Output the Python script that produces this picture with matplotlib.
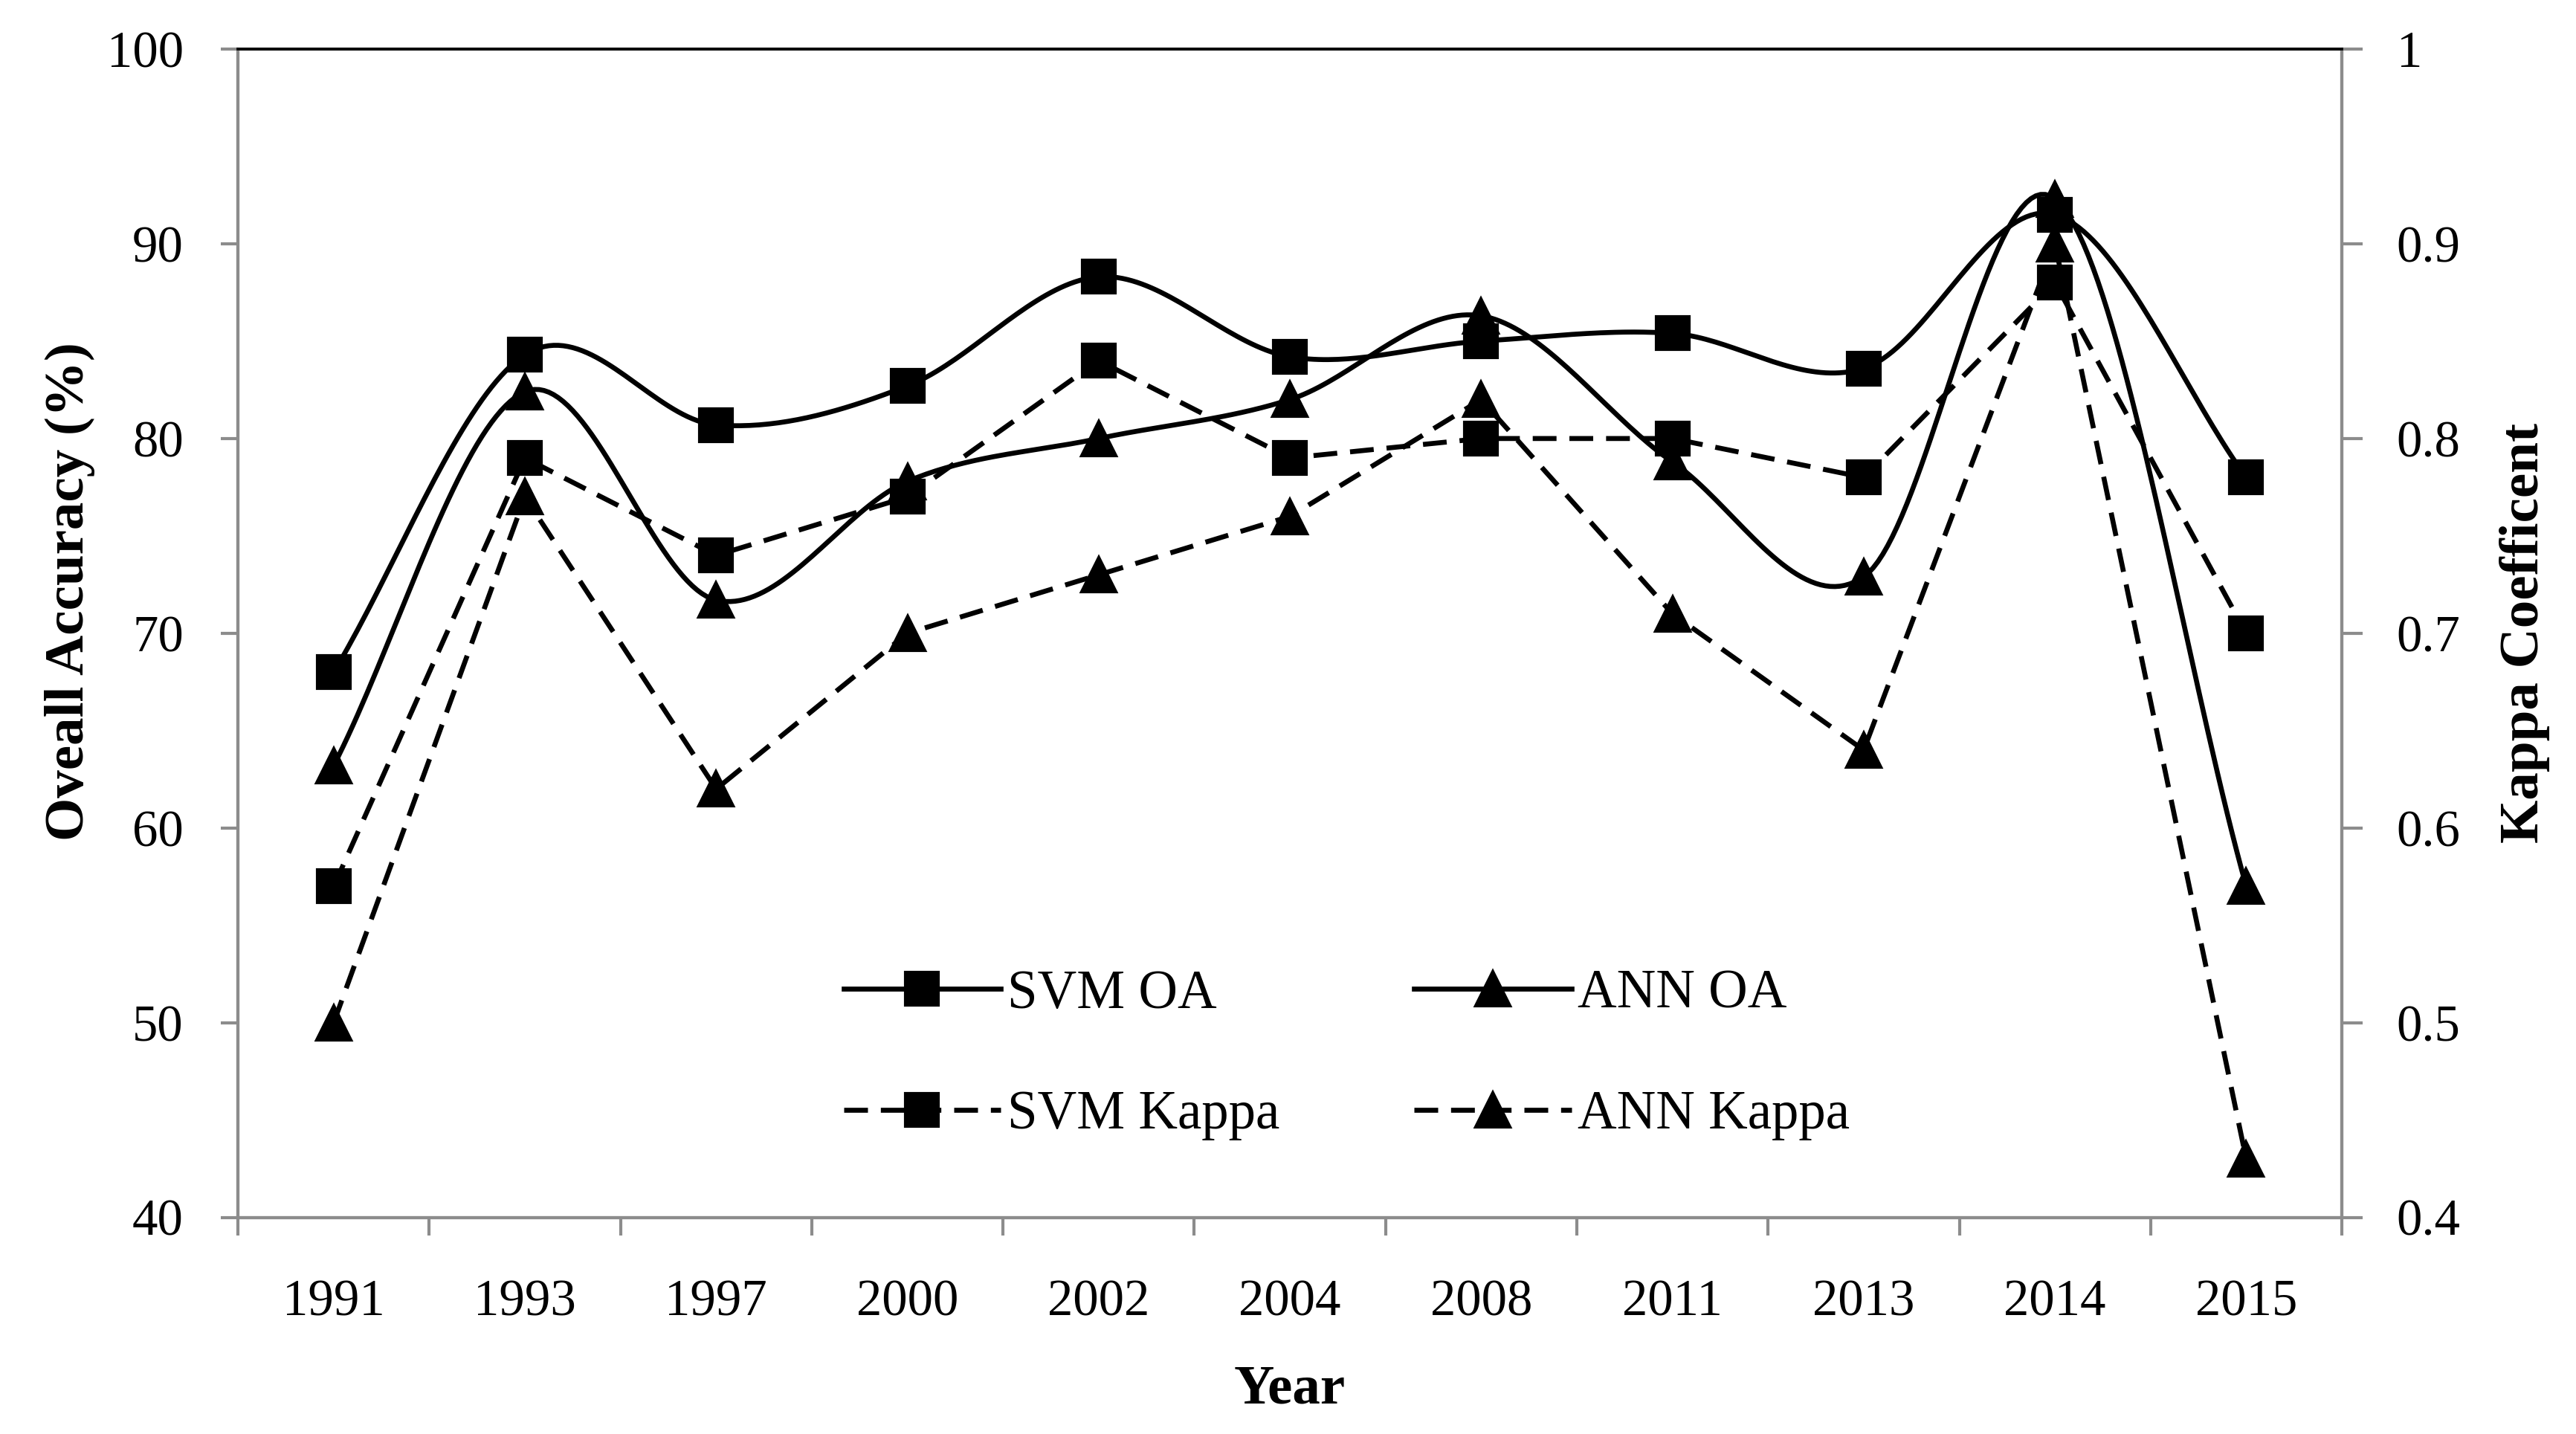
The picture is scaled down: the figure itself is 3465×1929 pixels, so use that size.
import numpy as np
import matplotlib
matplotlib.use("Agg")
import matplotlib.pyplot as plt
from matplotlib.lines import Line2D

years = ["1991", "1993", "1997", "2000", "2002", "2004", "2008", "2011", "2013", "2014", "2015"]
svm_oa = [68.0, 84.3, 80.7, 82.7, 88.3, 84.2, 85.0, 85.4, 83.6, 91.5, 78.0]
ann_oa = [63.2, 82.4, 71.7, 77.8, 80.0, 82.0, 86.3, 78.8, 72.9, 92.3, 57.0]
svm_kappa = [0.57, 0.79, 0.74, 0.77, 0.84, 0.79, 0.80, 0.80, 0.78, 0.88, 0.70]
ann_kappa = [0.50, 0.77, 0.62, 0.70, 0.73, 0.76, 0.82, 0.71, 0.64, 0.90, 0.43]

plt.rcParams['font.family'] = ['Liberation Serif', 'DejaVu Serif']


def smooth(xs, ys, n=40):
    P = np.column_stack([np.asarray(xs, float), np.asarray(ys, float)])
    ext = np.vstack([2 * P[0] - P[1], P, 2 * P[-1] - P[-2]])
    out = []
    t = np.linspace(0, 1, n, endpoint=False)[:, None]
    for i in range(len(P) - 1):
        p0, p1, p2, p3 = ext[i], ext[i + 1], ext[i + 2], ext[i + 3]
        b0 = p1
        b1 = p1 + (p2 - p0) / 6.0
        b2 = p2 - (p3 - p1) / 6.0
        b3 = p2
        seg = ((1 - t) ** 3) * b0 + 3 * ((1 - t) ** 2) * t * b1 + 3 * (1 - t) * t ** 2 * b2 + t ** 3 * b3
        out.append(seg)
    out.append(P[-1][None, :])
    out = np.vstack(out)
    return out[:, 0], out[:, 1]


fig = plt.figure(figsize=(11.55, 6.43), dpi=300)
ax = fig.add_axes([0.0924, 0.151, 0.8167, 0.8148])
ax2 = ax.twinx()

x = np.arange(len(years))
lw = 1.6
ms = 10.5
dash = (0, (4.8, 2.6))

sx, sy = smooth(x, svm_oa)
ax.plot(sx, sy, color='black', lw=lw)
ax.plot(x, svm_oa, ls='none', marker='s', ms=ms, color='black')
sx, sy = smooth(x, ann_oa)
ax.plot(sx, sy, color='black', lw=lw)
ax.plot(x, ann_oa, ls='none', marker='^', ms=ms + 0.5, color='black')

ax2.plot(x, svm_kappa, color='black', lw=lw, ls=dash, marker='s', ms=ms)
ax2.plot(x, ann_kappa, color='black', lw=lw, ls=dash, marker='^', ms=ms + 0.5)

ax.set_xlim(-0.5, len(years) - 0.5)
ax.set_ylim(40, 100)
ax2.set_ylim(0.4, 1.0)
ax.set_yticks(np.arange(40, 101, 10))
ax2.set_yticks([0.4, 0.5, 0.6, 0.7, 0.8, 0.9, 1.0])
ax2.set_yticklabels(["0.4", "0.5", "0.6", "0.7", "0.8", "0.9", "1"])

ax.set_xticks(x)
ax.set_xticklabels(years)
ax.set_xticks(np.arange(-0.5, len(years), 1.0), minor=True)
ax.tick_params(axis='x', which='major', length=0, pad=20, labelsize=16.5)
ax.tick_params(axis='x', which='minor', length=5.8, width=1.0, color='#8c8c8c', direction='out')
ax.tick_params(axis='y', length=5.6, width=1.0, color='#8c8c8c', direction='out', pad=12, labelsize=16.5)
ax2.tick_params(axis='y', length=6.7, width=1.0, color='#8c8c8c', direction='out', pad=11, labelsize=16.5)

for a in (ax, ax2):
    for side in ('left', 'right', 'bottom'):
        a.spines[side].set_color('#8c8c8c')
        a.spines[side].set_linewidth(1.0)
    a.spines['top'].set_color('black')
    a.spines['top'].set_linewidth(0.9)

ax.set_xlabel("Year", fontsize=18, fontweight='bold')
ax.xaxis.set_label_coords(0.5, -0.126)
ax.set_ylabel("Oveall Accuracy (%)", fontsize=18, fontweight='bold')
ax.yaxis.set_label_coords(-0.068, 0.536)
ax2.set_ylabel("Kappa Coefficent", fontsize=18, fontweight='bold')
ax2.yaxis.set_label_coords(1.075, 0.5)

handles = [
    Line2D([], [], color='black', lw=lw, marker='s', ms=ms),
    Line2D([], [], color='black', lw=lw, ls=dash, marker='s', ms=ms),
    Line2D([], [], color='black', lw=lw, marker='^', ms=ms + 0.5),
    Line2D([], [], color='black', lw=lw, ls=dash, marker='^', ms=ms + 0.5),
]
labels = ["SVM OA", "SVM Kappa", "ANN OA", "ANN Kappa"]
ax2.legend(handles, labels, ncol=2, loc='center', bbox_to_anchor=(0.527, 0.139),
           frameon=False, fontsize=17.5, handlelength=2.9, handletextpad=0.12,
           columnspacing=2.48, labelspacing=1.3, numpoints=1, borderpad=0)

fig.savefig("out.png", dpi=300)
